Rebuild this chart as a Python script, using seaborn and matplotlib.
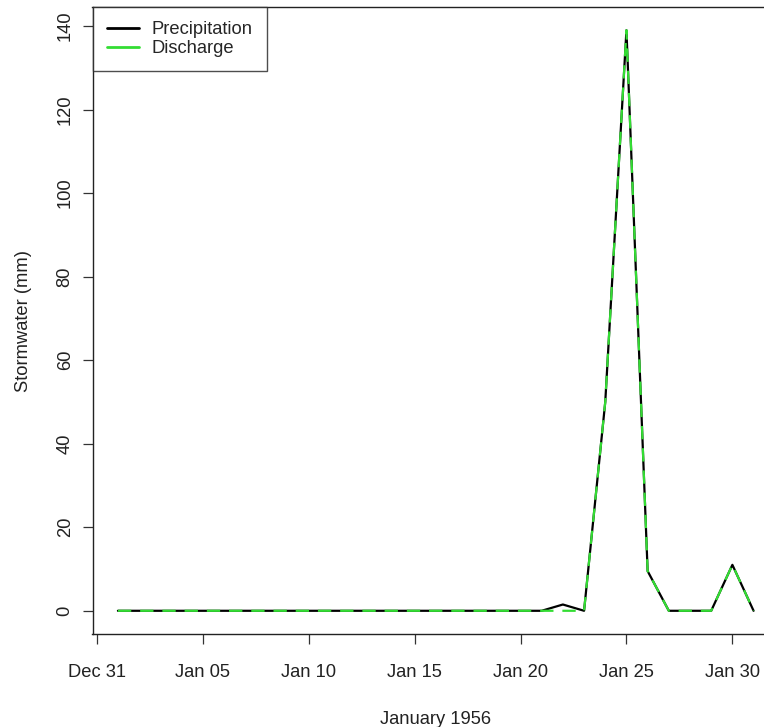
import numpy as np
import pandas as pd
import matplotlib
matplotlib.use("Agg")
import matplotlib.pyplot as plt
import matplotlib.dates as mdates
import seaborn as sns

dates = pd.date_range("1956-01-01", "1956-01-31", freq="D")
precipitation = [0, 0, 0, 0, 0, 0, 0, 0, 0, 0, 0, 0, 0, 0, 0, 0, 0, 0, 0, 0, 0,
                 1.5, 0, 50, 139, 9.5, 0, 0, 0, 11, 0]
discharge = [0, 0, 0, 0, 0, 0, 0, 0, 0, 0, 0, 0, 0, 0, 0, 0, 0, 0, 0, 0, 0,
             0, 0, 50, 139, 9.5, 0, 0, 0, 11, 0]
x_ticks = pd.to_datetime(["1955-12-31", "1956-01-05", "1956-01-10", "1956-01-15",
                          "1956-01-20", "1956-01-25", "1956-01-30"])
x_tick_labels = ["Dec 31", "Jan 05", "Jan 10", "Jan 15", "Jan 20", "Jan 25", "Jan 30"]
y_ticks = [0, 20, 40, 60, 80, 100, 120, 140]

df = pd.DataFrame({"date": dates, "Precipitation": precipitation, "Discharge": discharge})

sns.set_theme(style="white")
plt.rcParams["font.family"] = ["Liberation Sans", "DejaVu Sans"]

W, H = 764, 727
fig = plt.figure(figsize=(W / 100, H / 100), dpi=100)
left_px, right_px, top_px, bottom_px = 92.5, 779.0, 7.0, 634.0
ax = fig.add_axes([left_px / W, 1 - bottom_px / H,
                   (right_px - left_px) / W, (bottom_px - top_px) / H])

sns.lineplot(data=df, x="date", y="Precipitation", ax=ax, color="black",
             linewidth=1.6, label="Precipitation")
sns.lineplot(data=df, x="date", y="Discharge", ax=ax, color="#33dd33",
             linewidth=1.6, label="Discharge")
ax.lines[1].set_dashes([6, 4])

d0 = mdates.date2num(pd.Timestamp("1956-01-01"))
ax.set_xlim(d0 - 1.2, d0 + 31.2)
ax.set_ylim(-5.56, 144.56)

ax.set_xticks(x_ticks)
ax.set_xticklabels(x_tick_labels)
ax.set_yticks(y_ticks)
ax.set_yticklabels([str(v) for v in y_ticks], rotation=90, va="center")

fs = 13.2
ax.tick_params(axis="both", direction="out", length=7.5, width=0.9, color="#333333",
               labelsize=fs, labelcolor="#222222", bottom=True, left=True)
ax.tick_params(axis="x", pad=14)
ax.tick_params(axis="y", pad=6)

for s in ax.spines.values():
    s.set_color("#222222")
    s.set_linewidth(1.0)

ax.set_xlabel("January 1956", fontsize=fs, color="#222222", labelpad=21.5)
ax.set_ylabel("Stormwater (mm)", fontsize=fs, color="#222222", labelpad=17.5)

leg = ax.legend(loc="upper left", bbox_to_anchor=(0, 1), fontsize=fs,
                frameon=True, fancybox=False, borderaxespad=0, handlelength=1.75,
                handletextpad=0.7, borderpad=0.78, labelspacing=0.1)
leg.get_frame().set_edgecolor("#222222")
leg.get_frame().set_linewidth(1.0)
for h in leg.get_lines():
    h.set_linestyle("-")
    h.set_linewidth(2)

fig.savefig("out.png", dpi=100)
